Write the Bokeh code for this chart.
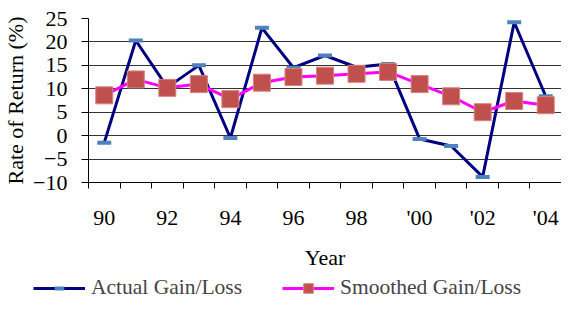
from bokeh.plotting import figure
from bokeh.models import FixedTicker, Legend, LegendItem, Range1d
from bokeh.embed import file_html
from bokeh.resources import INLINE

years = ["90", "91", "92", "93", "94", "95", "96", "97", "98", "99", "'00", "'01", "'02", "'03", "'04"]
actual = [-1.5, 20.3, 10.3, 15.0, -0.5, 23.0, 14.5, 17.1, 14.6, 15.3, -0.7, -2.2, -8.8, 24.2, 8.4]
smoothed = [8.6, 12.0, 10.2, 11.0, 7.8, 11.3, 12.5, 12.8, 13.2, 13.6, 11.0, 8.4, 5.0, 7.4, 6.5]
y_ticks = [-10, -5, 0, 5, 10, 15, 20, 25]
x_label_idx = [0, 2, 4, 6, 8, 10, 12, 14]
series_names = ["Actual Gain/Loss", "Smoothed Gain/Loss"]

xs = list(range(len(years)))
FONT = "'Liberation Serif', 'Times New Roman', serif"

ACT_LINE, ACT_MARK = "#000080", "#4F81BD"
SM_LINE, SM_MARK, SM_EDGE = "#FF00FF", "#C0504D", "#D4847F"

p = figure(width=561, height=272, output_backend="svg", toolbar_location=None,
           x_range=Range1d(-0.5, len(years) - 0.5), y_range=Range1d(-10, 25),
           min_border_left=80, min_border_right=0, min_border_top=18, min_border_bottom=90)
p.outline_line_color = None
p.background_fill_color = "white"

# axes
p.xaxis.ticker = FixedTicker(ticks=x_label_idx, minor_ticks=[i - 0.5 for i in range(len(years) + 1)])
p.xaxis.major_label_overrides = {i: years[i] for i in x_label_idx}
p.xaxis.major_tick_out = 0
p.xaxis.major_tick_in = 0
p.xaxis.minor_tick_out = 6
p.xaxis.minor_tick_in = 0
p.xaxis.minor_tick_line_color = "black"
p.xaxis.major_label_standoff = 16
p.xaxis.axis_label = "Year"
p.xaxis.axis_label_standoff = 12

p.yaxis.ticker = FixedTicker(ticks=y_ticks)
p.yaxis.minor_tick_line_color = None
p.yaxis.major_tick_out = 7
p.yaxis.major_tick_in = 0
p.yaxis.major_label_standoff = 14
p.yaxis.axis_label = "Rate of Return (%)"
p.yaxis.axis_label_standoff = 2

for ax in (p.xaxis, p.yaxis):
    ax.axis_line_color = "black"
    ax.major_tick_line_color = "black"
    ax.major_label_text_font = FONT
    ax.major_label_text_font_size = "22px"
    ax.major_label_text_color = "black"
    ax.axis_label_text_font = FONT
    ax.axis_label_text_font_size = "22px"
    ax.axis_label_text_font_style = "normal"
    ax.axis_label_text_color = "black"

p.xgrid.grid_line_color = None
p.ygrid.grid_line_color = "#333333"
p.ygrid.grid_line_width = 1

# series
p.line(xs, actual, line_color=ACT_LINE, line_width=3)
p.scatter(xs, actual, marker="dash", size=14, line_color=ACT_MARK, line_width=4)
p.line(xs, smoothed, line_color=SM_LINE, line_width=3)
p.scatter(xs, smoothed, marker="square", size=17, fill_color=SM_MARK,
          line_color=SM_EDGE, line_width=1)

# legend strip: separate root so its frame is not aligned to the main plot frame
nan = float("nan")
lg = figure(width=561, height=28, output_backend="svg", toolbar_location=None,
            x_axis_type=None, y_axis_type=None, min_border=0,
            x_range=Range1d(0, 1), y_range=Range1d(0, 1))
lg.outline_line_color = None
lg.xgrid.grid_line_color = None
lg.ygrid.grid_line_color = None
r1 = lg.line([nan], [nan], line_color=ACT_LINE, line_width=3)
r1m = lg.scatter([nan], [nan], marker="dash", size=14, line_color=ACT_MARK, line_width=4)
r2 = lg.line([nan], [nan], line_color=SM_LINE, line_width=3)
r2m = lg.scatter([nan], [nan], marker="square", size=17, fill_color=SM_MARK,
                 line_color=SM_EDGE, line_width=1)

legend = Legend(items=[LegendItem(label=series_names[0], renderers=[r1, r1m]),
                       LegendItem(label=series_names[1], renderers=[r2, r2m])],
                orientation="horizontal", location=(33, 0),
                padding=0, margin=0, spacing=40, glyph_width=52, glyph_height=24,
                label_standoff=6, label_text_font=FONT, label_text_font_size="21.5px",
                border_line_color=None, background_fill_alpha=0)
lg.add_layout(legend, "center")

open("out.html", "w").write(file_html([p, lg], INLINE))
